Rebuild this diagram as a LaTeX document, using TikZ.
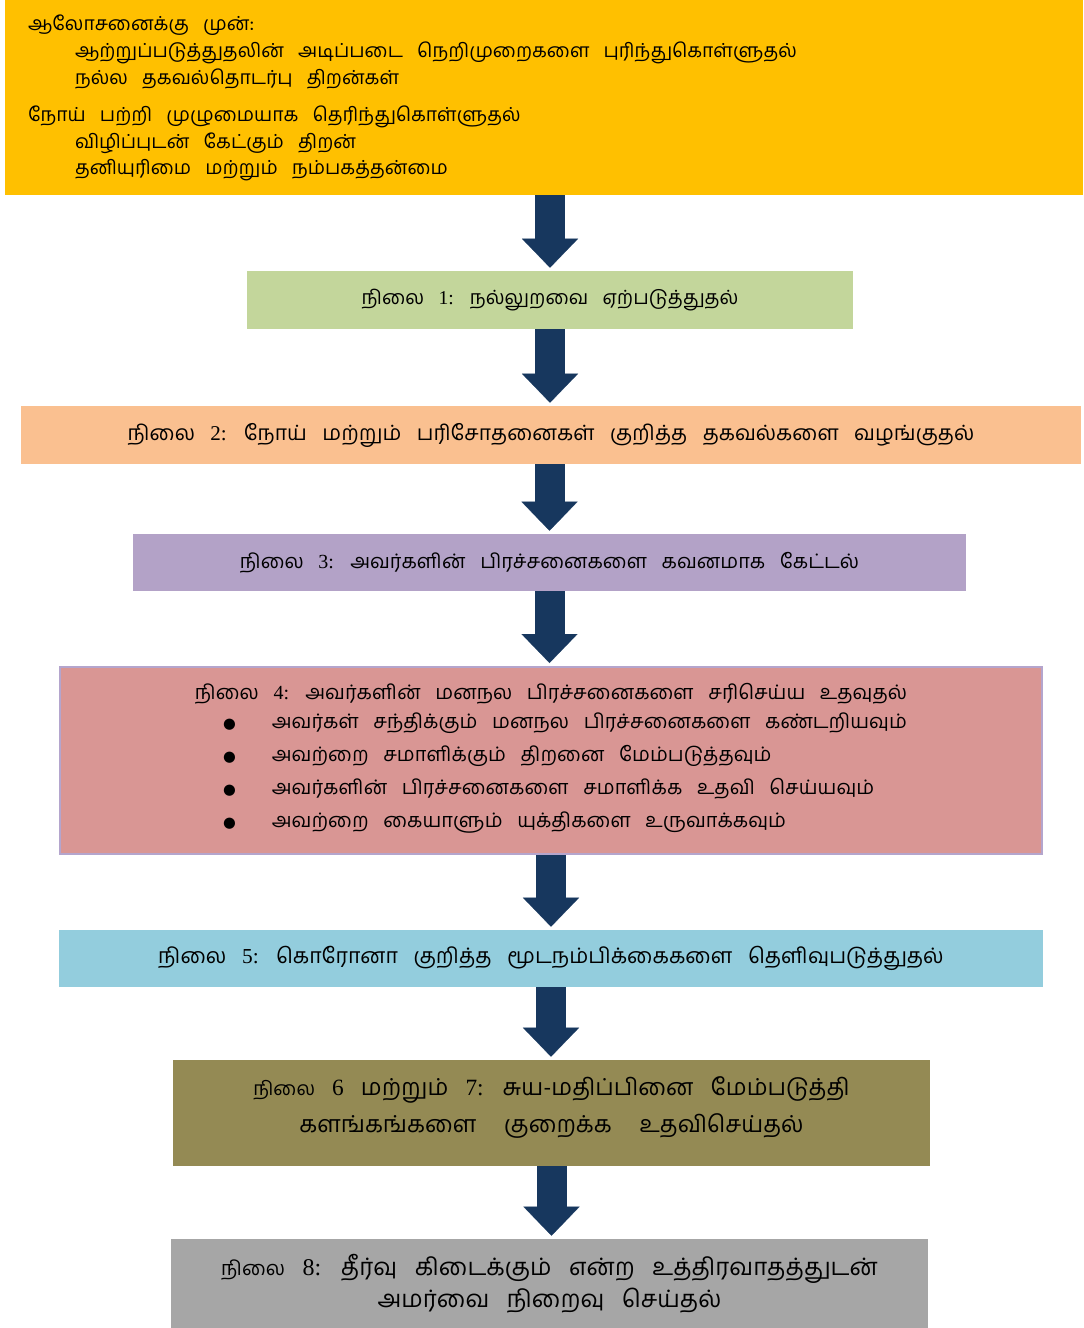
\documentclass[tikz,border=0pt]{standalone}
\usepackage{fontspec}
\usetikzlibrary{arrows.meta}
\newfontfamily\tamilfont[Script=Tamil,WordSpace=3]{Hind Madurai}
\newfontfamily\numfont{Liberation Serif}
\newfontfamily\symfont{DejaVu Sans}
\newcommand{\stnum}[1]{{\numfont #1}}
\newcommand{\bul}{{\symfont\fontsize{11}{11}\selectfont ●}}

\definecolor{topfill}{RGB}{255,192,0}
\definecolor{stagegreen}{RGB}{195,214,155}
\definecolor{stagepeach}{RGB}{250,192,144}
\definecolor{stagelilac}{RGB}{179,162,199}
\definecolor{stagerose}{RGB}{217,150,148}
\definecolor{stageblue}{RGB}{147,205,221}
\definecolor{stageolive}{RGB}{148,138,84}
\definecolor{stagegrey}{RGB}{166,166,166}
\definecolor{arrownavy}{RGB}{23,55,94}
\definecolor{roseline}{RGB}{180,165,205}

\tikzset{
  stagebox/.style={rectangle, inner sep=0pt, align=center, font=\tamilfont\fontsize{15}{22}\selectfont},
  flowarrow/.style={draw=arrownavy, line width=30*0.75pt,
    -{Triangle[width=56*0.75pt, length=29*0.75pt, line width=0.1pt, color=arrownavy]},
    shorten >=3*0.75pt}
}

\begin{document}
\begin{tikzpicture}[x=0.75pt,y=0.75pt,yscale=-1,xscale=1]
\useasboundingbox (0,0) rectangle (1083,1328);

%Shape: top box (before the session)
\node[stagebox, fill=topfill, minimum width=1078*0.75pt, minimum height=195*0.75pt,
  text width=1032*0.75pt, align=left, font=\tamilfont\fontsize{14.5}{20}\selectfont] (top) at (544,97.5)
  {\spaceskip=0pt\xspaceskip=0pt\relax
   \begin{tabular}{@{}l@{}}
   ஆலோசனைக்கு முன்:\\
   \hspace*{35.25pt}ஆற்றுப்படுத்துதலின் அடிப்படை நெறிமுறைகளை புரிந்துகொள்ளுதல்\\
   \hspace*{35.25pt}நல்ல தகவல்தொடர்பு திறன்கள்\\[8pt]
   நோய் பற்றி முழுமையாக தெரிந்துகொள்ளுதல்\\
   \hspace*{35.25pt}விழிப்புடன் கேட்கும் திறன்\\
   \hspace*{35.25pt}தனியுரிமை மற்றும் நம்பகத்தன்மை
   \end{tabular}};

%Shape: stage boxes
\node[stagebox, fill=stagegreen, minimum width=606*0.75pt, minimum height=58*0.75pt,
  font=\tamilfont\fontsize{14.7}{22}\selectfont] (s1) at (550,300)
  {நிலை \stnum{1:} நல்லுறவை ஏற்படுத்துதல்};
\node[stagebox, fill=stagepeach, minimum width=1060*0.75pt, minimum height=58*0.75pt,
  font=\tamilfont\fontsize{15.8}{22}\selectfont] (s2) at (551,435)
  {நிலை \stnum{2:} நோய் மற்றும் பரிசோதனைகள் குறித்த தகவல்களை வழங்குதல்};
\node[stagebox, fill=stagelilac, minimum width=833*0.75pt, minimum height=57*0.75pt] (s3) at (549.5,562.5)
  {நிலை \stnum{3:} அவர்களின் பிரச்சனைகளை கவனமாக கேட்டல்};
\node[stagebox, fill=stagerose, draw=roseline, line width=1.5pt, minimum width=982*0.75pt, minimum height=187*0.75pt,
  font=\tamilfont\fontsize{15}{24.75}\selectfont] (s4) at (551,760.5)
  {நிலை \stnum{4:} அவர்களின் மனநல பிரச்சனைகளை சரிசெய்ய உதவுதல்\\
   \hspace*{21pt}\begin{tabular}{@{}c@{\hspace{27pt}}l@{}}
   \bul & அவர்கள் சந்திக்கும் மனநல பிரச்சனைகளை கண்டறியவும்\\
   \bul & அவற்றை சமாளிக்கும் திறனை மேம்படுத்தவும்\\
   \bul & அவர்களின் பிரச்சனைகளை சமாளிக்க உதவி செய்யவும்\\
   \bul & அவற்றை கையாளும் யுக்திகளை உருவாக்கவும்
   \end{tabular}};
\node[stagebox, fill=stageblue, minimum width=984*0.75pt, minimum height=57*0.75pt,
  font=\tamilfont\fontsize{16}{22}\selectfont] (s5) at (551,958.5)
  {நிலை \stnum{5:} கொரோனா குறித்த மூடநம்பிக்கைகளை தெளிவுபடுத்துதல்};
\node[stagebox, fill=stageolive, minimum width=757*0.75pt, minimum height=106*0.75pt,
  font=\tamilfont\fontsize{17.5}{28}\selectfont] (s6) at (551.5,1113)
  {{\fontsize{14.5}{28}\selectfont நிலை} \stnum{6} மற்றும் \stnum{7:} சுய-மதிப்பினை மேம்படுத்தி\\
   களங்கங்களை\hspace{8pt} குறைக்க\hspace{8pt} உதவிசெய்தல்\rule[-13pt]{0pt}{0pt}};
\node[stagebox, fill=stagegrey, minimum width=757*0.75pt, minimum height=89*0.75pt,
  font=\tamilfont\fontsize{18}{24}\selectfont] (s7) at (549.5,1283.5)
  {{\fontsize{15}{24}\selectfont நிலை} \stnum{8:} தீர்வு கிடைக்கும் என்ற உத்திரவாதத்துடன்\\
   அமர்வை நிறைவு செய்தல்};

%Arrows
\draw[flowarrow] (top.south -| s1.north) -- (s1.north);
\draw[flowarrow] (s1.south) -- (s1.south |- s2.north);
\draw[flowarrow] (s3.north |- s2.south) -- (s3.north);
\draw[flowarrow] (s3.south) -- (s3.south |- s4.north);
\draw[flowarrow] (s4.south) -- (s5.north);
\draw[flowarrow] (s5.south) -- (s5.south |- s6.north);
\draw[flowarrow] (s6.south) -- (s6.south |- s7.north);

\end{tikzpicture}
\end{document}
